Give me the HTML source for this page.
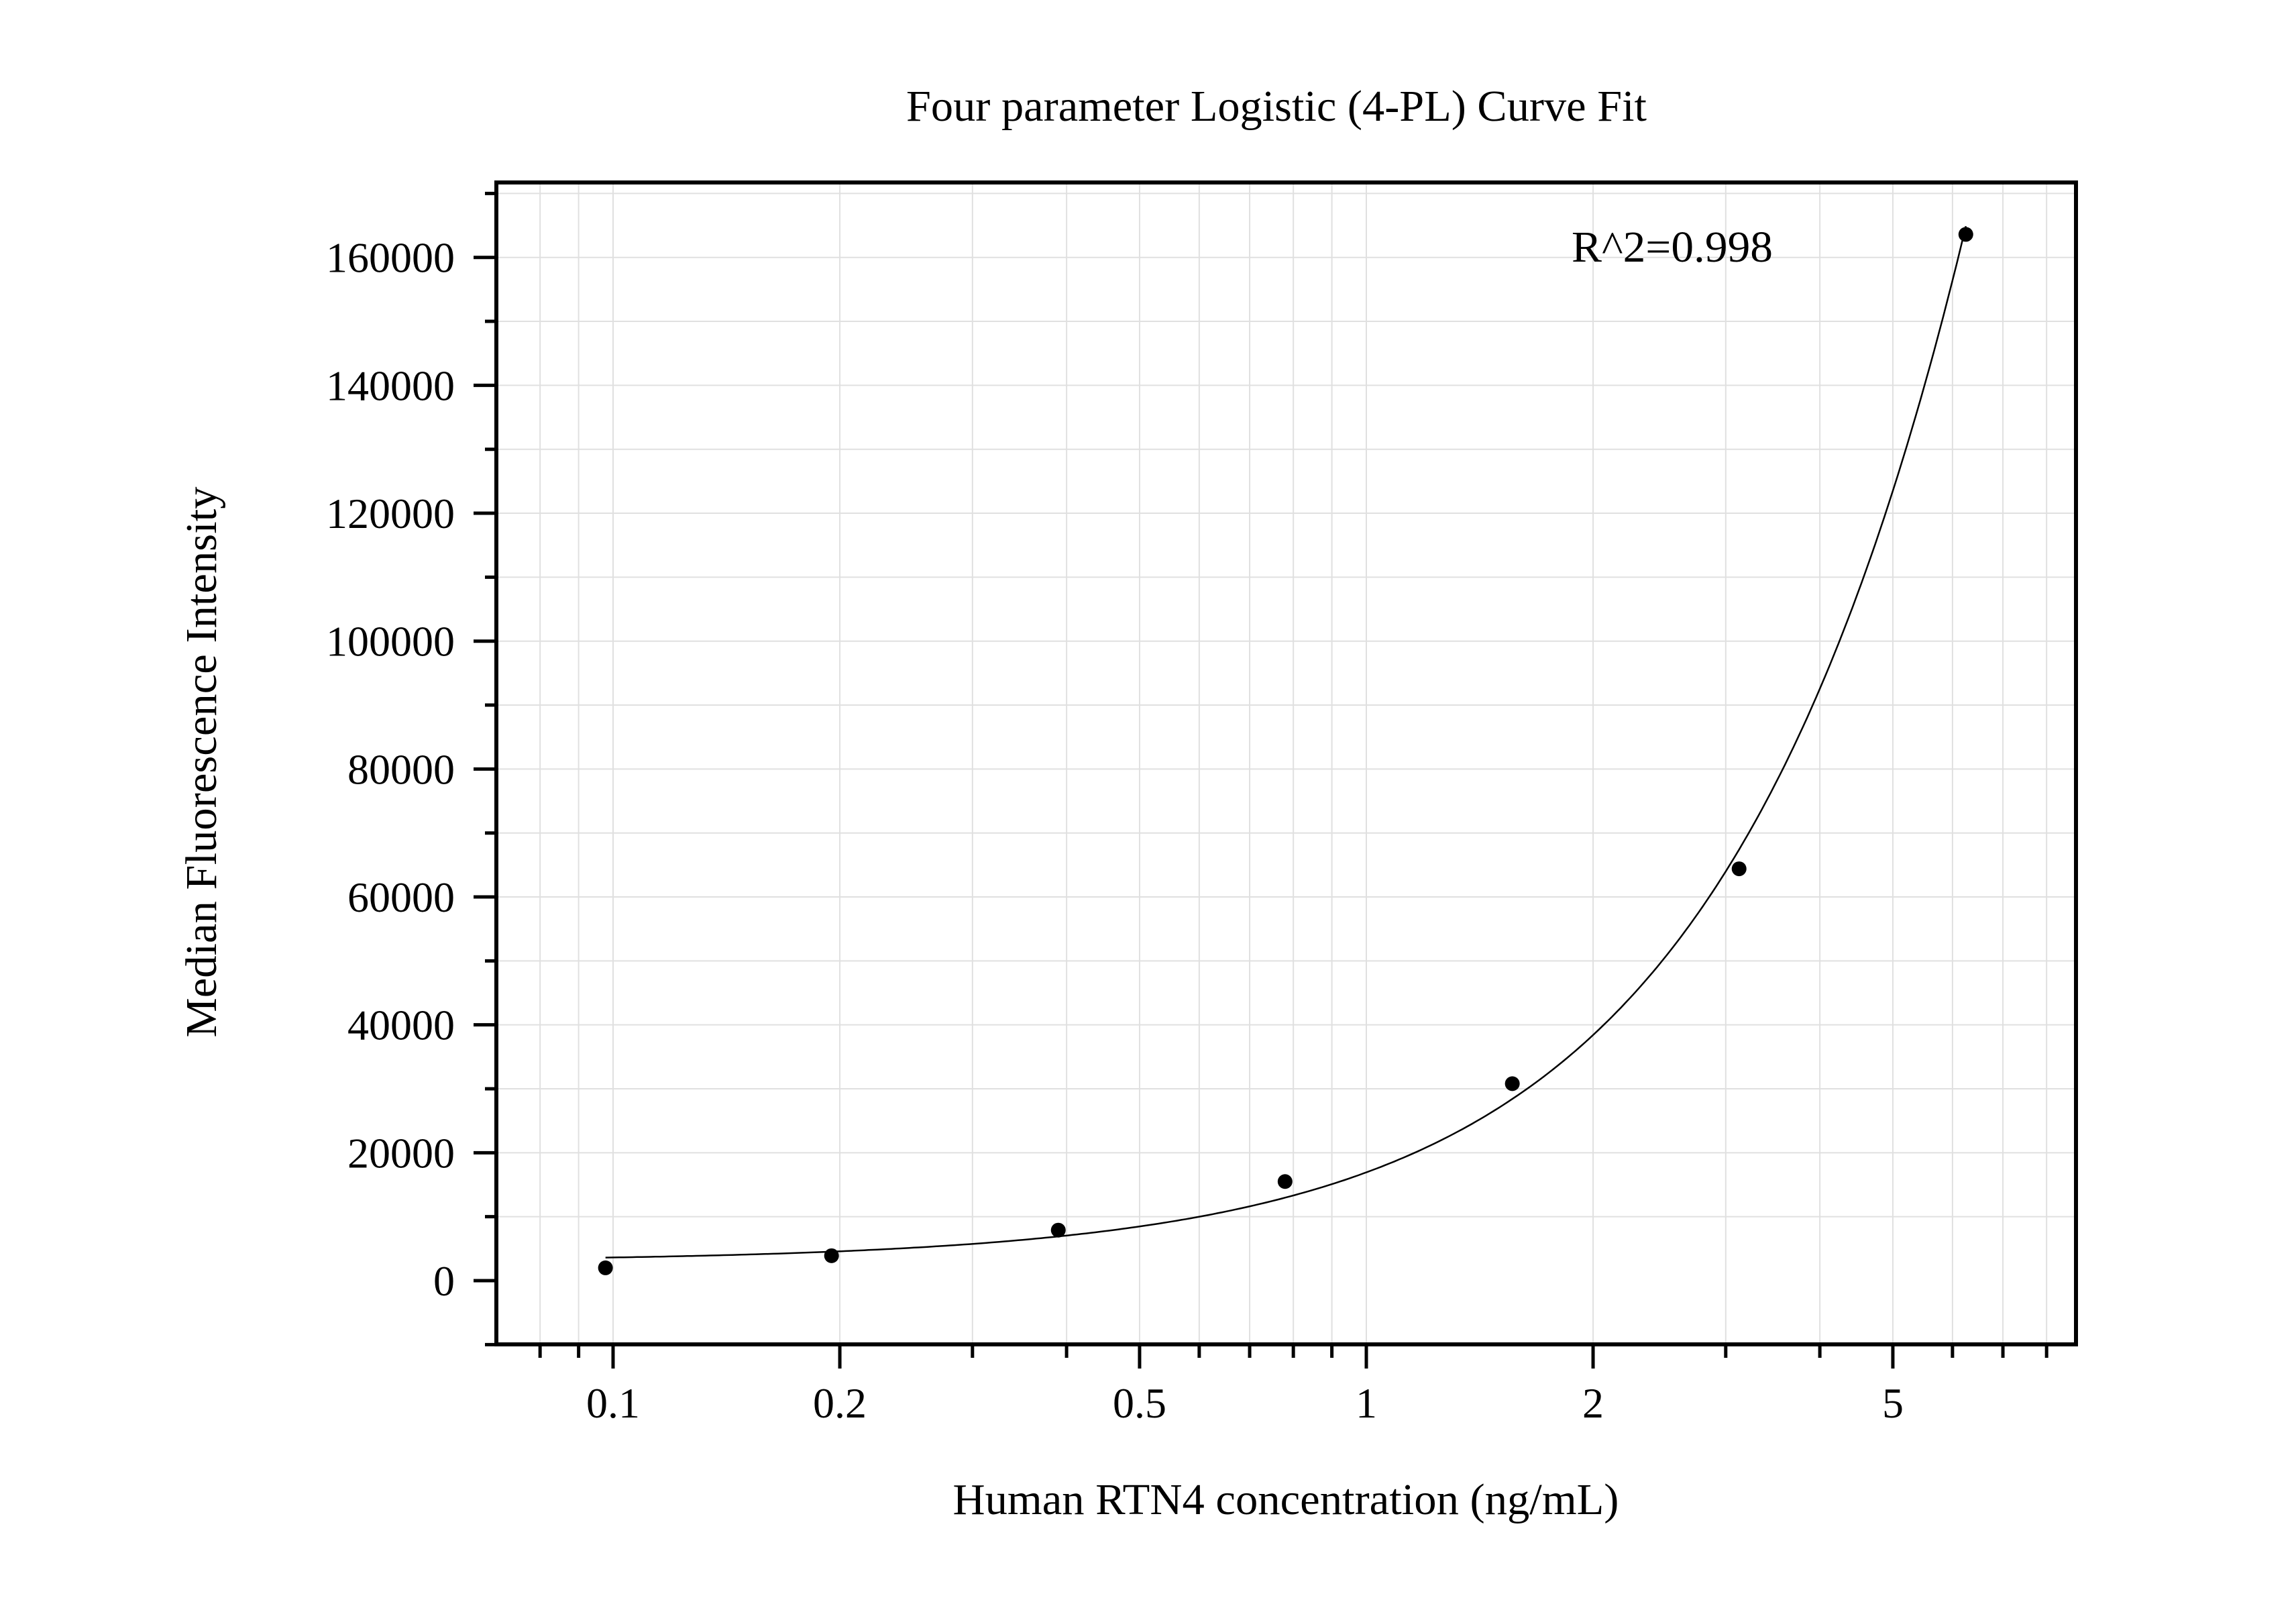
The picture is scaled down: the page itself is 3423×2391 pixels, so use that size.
<!DOCTYPE html>
<html><head><meta charset="utf-8">
<style>
html,body{margin:0;padding:0;background:#fff;}
svg{display:block;}
text{font-family:"Liberation Serif","Times New Roman",serif;fill:#000;}
</style></head>
<body>
<svg id="chart" width="3423" height="2391" viewBox="0 0 3423 2391" xmlns="http://www.w3.org/2000/svg">
<rect width="3423" height="2391" fill="#fff"/>
<g id="grid"></g>
<g id="series"></g>
<g id="axes"></g>
<text x="1903" y="180" font-size="66" text-anchor="middle" textLength="1104" lengthAdjust="spacingAndGlyphs">Four parameter Logistic (4-PL) Curve Fit</text>
<text x="2343" y="390" font-size="66" textLength="300" lengthAdjust="spacingAndGlyphs">R^2=0.998</text>
<text x="1917" y="2257" font-size="66" text-anchor="middle" textLength="993" lengthAdjust="spacingAndGlyphs">Human RTN4 concentration (ng/mL)</text>
<text transform="translate(322,1136) rotate(-90)" font-size="66" text-anchor="middle" textLength="821" lengthAdjust="spacingAndGlyphs">Median Fluorescence Intensity</text>
</svg>
<script>
const conc = [0.0977, 0.195, 0.39, 0.78, 1.5625, 3.125, 6.25];
const mfi = [2000, 3900, 7900, 15500, 30800, 64400, 163600];
const fitParams = [3000, 1.35, 100, 7000000];
const xTickValues = [0.1, 0.2, 0.5, 1, 2, 5];
const xTickLabels = ["0.1", "0.2", "0.5", "1", "2", "5"];
const yTickValues = [0, 20000, 40000, 60000, 80000, 100000, 120000, 140000, 160000];
const yTickLabels = ["0", "20000", "40000", "60000", "80000", "100000", "120000", "140000", "160000"];

const NS = "http://www.w3.org/2000/svg";
const L = 740, R = 3095, T = 272, B = 2004;
function xs(c){ return 2037 + 1123 * Math.log10(c); }
function ys(v){ return 1909 - v * 0.009533; }
function mk(tag, attrs, parent){
  const e = document.createElementNS(NS, tag);
  for (const k in attrs) e.setAttribute(k, attrs[k]);
  parent.appendChild(e);
  return e;
}
const grid = document.getElementById('grid');
const axes = document.getElementById('axes');
const series = document.getElementById('series');

// minor x values
const xMinor = [];
for (const d of [0.01, 0.1, 1]) for (let m = 1; m <= 9; m++){ const v = +(m*d).toPrecision(3); if (xs(v) > L+3 && xs(v) < R-3) xMinor.push(v); }
for (const v of xMinor){
  const X = xs(v);
  let g = mk('line', {x1:X, x2:X, y1:T, y2:B, stroke:'#e0e0e0', 'stroke-width':2}, grid);
  
  
  const major = xTickValues.some(t => Math.abs(t - v) < 1e-9);
  let t = mk('line', {x1:X, x2:X, y1:B, y2:B + (major ? 36 : 20), stroke:'#000', 'stroke-width':5}, axes);
  
  
}
// left-most minor tick at 0.07 on axis
for (let v = 10000; v <= 170000; v += 10000){
  const Y = ys(v);
  let g = mk('line', {x1:L, x2:R, y1:Y, y2:Y, stroke:'#e0e0e0', 'stroke-width':2}, grid);
  
  
}
for (let v = -10000; v <= 170000; v += 10000){
  const Y = ys(v);
  const major = v % 20000 === 0;
  let t = mk('line', {x1:L - (major ? 34 : 17), x2:L, y1:Y, y2:Y, stroke:'#000', 'stroke-width':5}, axes);
  
  
}
xTickValues.forEach((v, i) => {
  let t = mk('text', {x:xs(v), y:2113, 'font-size':64, 'text-anchor':'middle'}, axes);
  t.textContent = xTickLabels[i];
  
  
});
yTickValues.forEach((v, i) => {
  let t = mk('text', {x:678, y:ys(v) + 22, 'font-size':64, 'text-anchor':'end'}, axes);
  t.textContent = yTickLabels[i];
  
  
});
let frame = mk('rect', {x:L, y:T, width:R-L, height:B-T, fill:'none', stroke:'#000', 'stroke-width':6}, axes);



// fit curve
const [A, Bp, C, D] = fitParams;
function fit(x){ return D + (A - D) / (1 + Math.pow(x / C, Bp)); }
let pts = [];
const lo = Math.log10(conc[0]), hi = Math.log10(conc[conc.length-1]);
for (let i = 0; i <= 300; i++){
  const c = Math.pow(10, lo + (hi - lo) * i / 300);
  pts.push(xs(c).toFixed(1) + ',' + ys(fit(c)).toFixed(1));
}
let curve = mk('polyline', {points:pts.join(' '), fill:'none', stroke:'#000', 'stroke-width':2.5}, series);


conc.forEach((c, i) => {
  let p = mk('circle', {cx:xs(c), cy:ys(mfi[i]), r:11, fill:'#000'}, series);
  
  
});
</script>
</body></html>
